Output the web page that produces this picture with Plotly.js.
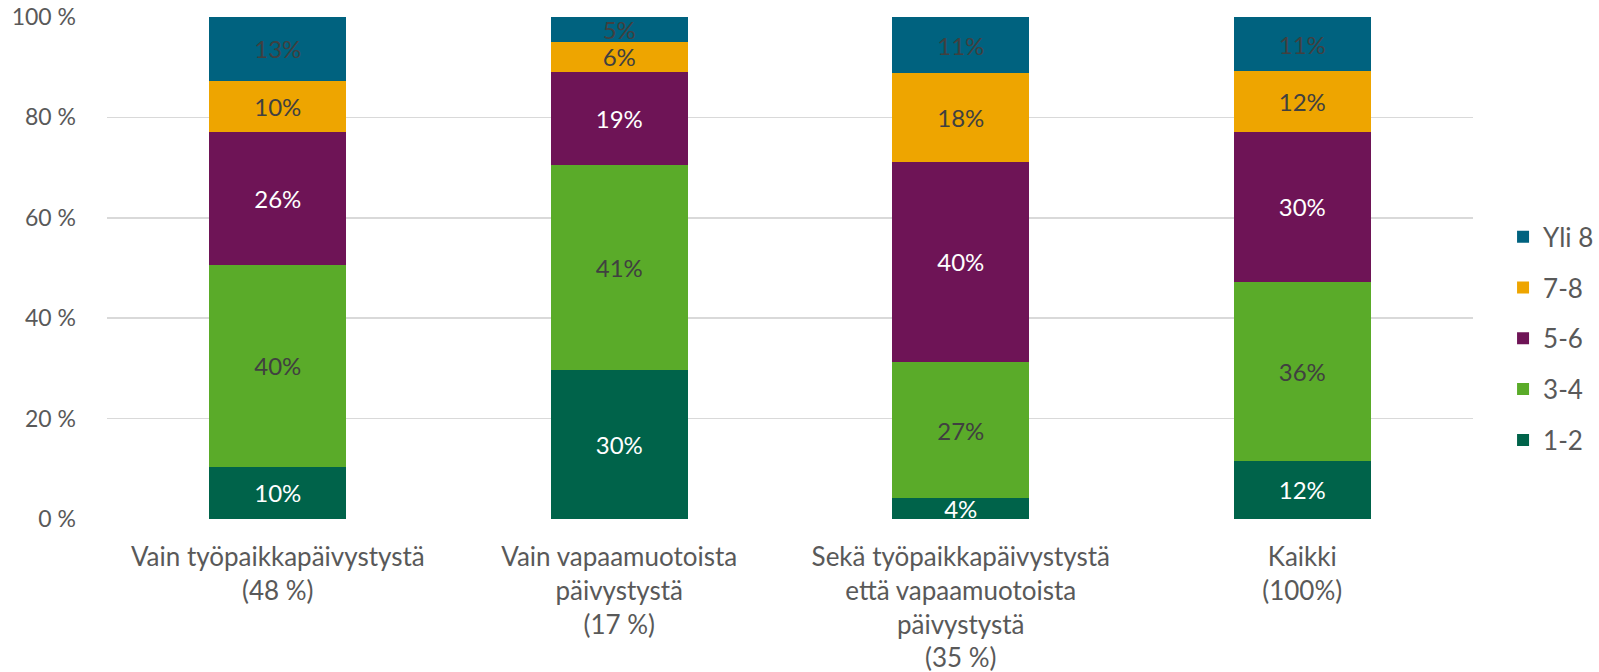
<!DOCTYPE html>
<html>
<head>
<meta charset="utf-8">
<script src="https://cdn.plot.ly/plotly-3.0.1.min.js"></script>
<style>html,body{margin:0;padding:0;background:#fff;}#chart{width:1599px;height:672px;}</style>
</head>
<body>
<div id="chart"></div>
<script>
const categories = [
  "Vain työpaikkapäivystystä<br>(48 %)",
  "Vain vapaamuotoista<br>päivystystä<br>(17 %)",
  "Sekä työpaikkapäivystystä<br>että vapaamuotoista<br>päivystystä<br>(35 %)",
  "Kaikki<br>(100%)"
];
const seriesNames = ["1-2", "3-4", "5-6", "7-8", "Yli 8"];
const s12 = [10.4, 29.7, 4.1, 11.6];
const s34 = [40.2, 40.8, 27.1, 35.7];
const s56 = [26.4, 18.6, 40.0, 29.8];
const s78 = [10.3, 6.0, 17.6, 12.1];
const sYli8 = [12.7, 4.9, 11.2, 10.8];
const yTicks = [0, 20, 40, 60, 80, 100];

const seriesValues = [s12, s34, s56, s78, sYli8];
const colors = ["#00634A", "#5AAB29", "#6E1456", "#EEA500", "#00627F"];
const labelColors = ["#ffffff", "#404040", "#ffffff", "#404040", "#404040"];

const traces = seriesNames.map((name, i) => ({
  type: "bar",
  name: name,
  x: categories,
  y: seriesValues[i],
  marker: {color: colors[i], line: {width: 0}},
  text: seriesValues[i].map(v => Math.round(v) + "%"),
  textposition: "inside",
  insidetextanchor: "middle",
  textangle: 0,
  constraintext: "none",
  textfont: {family: "Lato, sans-serif", size: 24, color: labelColors[i]},
  insidetextfont: {family: "Lato, sans-serif", size: 24, color: labelColors[i]},
  hoverinfo: "skip",
  legendgroup: name,
  legendrank: 1000 + (seriesNames.length - i)
}));

const layout = {
  width: 1599,
  height: 672,
  margin: {l: 107, r: 126, t: 17, b: 153, autoexpand: false},
  barmode: "stack",
  bargap: 0.6,
  paper_bgcolor: "#ffffff",
  plot_bgcolor: "#ffffff",
  font: {family: "Lato, sans-serif", size: 22, color: "#595959"},
  xaxis: {
    showgrid: false,
    zeroline: false,
    showline: false,
    ticks: "",
    ticklabelstandoff: 20,
    tickfont: {size: 26, color: "#595959"},
    fixedrange: true
  },
  yaxis: {
    range: [0, 100],
    tickvals: yTicks,
    ticktext: yTicks.map(v => v + " %"),
    showgrid: true,
    gridcolor: "#d9d9d9",
    gridwidth: 1.5,
    zeroline: false,
    showline: false,
    ticks: "",
    ticklabelstandoff: 30,
    tickfont: {size: 23, color: "#595959"},
    fixedrange: true
  },
  legend: {
    x: 1.022,
    xanchor: "left",
    y: 0.359,
    yanchor: "middle",
    traceorder: "grouped",
    tracegroupgap: 14,
    font: {size: 26, color: "#595959"},
    itemwidth: 30
  },
  showlegend: true
};

Plotly.newPlot("chart", traces, layout, {displayModeBar: false, staticPlot: true});
</script>
</body>
</html>
